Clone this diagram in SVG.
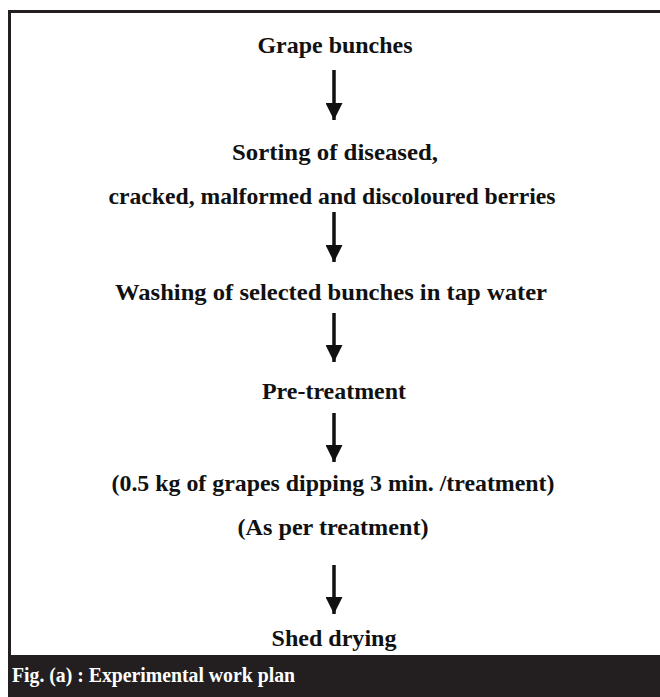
<svg xmlns="http://www.w3.org/2000/svg" width="660" height="697" viewBox="0 0 660 697">
<style>
  .t { font-family: "Liberation Serif", "Times New Roman", serif; font-weight: bold; font-size: 23.5px; fill: #111; text-anchor: middle; }
  .cap { font-family: "Liberation Serif", "Times New Roman", serif; font-weight: bold; font-size: 22px; fill: #fff; }
  .ln { stroke: #111; stroke-width: 3.5; fill: none; }
</style>
<defs>
  <marker id="ah" viewBox="0 0 10 10" refX="10" refY="5" markerUnits="userSpaceOnUse" markerWidth="17" markerHeight="17" orient="auto">
    <path d="M0,0 L10,5 L0,10 Z" fill="#111"/>
  </marker>
</defs>
<rect x="0" y="0" width="660" height="697" fill="#fff"/>
<g id="frame">
  <line x1="9.5" y1="10" x2="9.5" y2="656" stroke="#231f20" stroke-width="3"/>
  <line x1="8" y1="11.5" x2="660" y2="11.5" stroke="#231f20" stroke-width="3"/>
  <rect x="8" y="655" width="652" height="42" fill="#231f20"/>
</g>
<g id="connectors">
  <line class="ln" x1="334" y1="70" x2="334" y2="120" marker-end="url(#ah)"/>
  <line class="ln" x1="334" y1="212" x2="334" y2="262" marker-end="url(#ah)"/>
  <line class="ln" x1="334" y1="313" x2="334" y2="362" marker-end="url(#ah)"/>
  <line class="ln" x1="334" y1="413" x2="334" y2="462" marker-end="url(#ah)"/>
  <line class="ln" x1="334" y1="565" x2="334" y2="614" marker-end="url(#ah)"/>
</g>
<g id="n1"><text class="t" x="335" y="53" textLength="155" lengthAdjust="spacingAndGlyphs">Grape bunches</text></g>
<g id="n2">
  <text class="t" x="335" y="160" textLength="206" lengthAdjust="spacingAndGlyphs">Sorting of diseased,</text>
  <text class="t" x="332" y="204" textLength="447" lengthAdjust="spacingAndGlyphs">cracked, malformed and discoloured berries</text>
</g>
<g id="n3"><text class="t" x="331" y="300" textLength="432" lengthAdjust="spacingAndGlyphs">Washing of selected bunches in tap water</text></g>
<g id="n4"><text class="t" x="334" y="399" textLength="144" lengthAdjust="spacingAndGlyphs">Pre-treatment</text></g>
<g id="n5">
  <text class="t" x="333" y="491" textLength="443" lengthAdjust="spacingAndGlyphs">(0.5 kg of grapes dipping 3 min. /treatment)</text>
  <text class="t" x="333" y="535" textLength="191" lengthAdjust="spacingAndGlyphs">(As per treatment)</text>
</g>
<g id="n6"><text class="t" x="334" y="646" textLength="125" lengthAdjust="spacingAndGlyphs">Shed drying</text></g>
<g id="caption"><text class="cap" x="12" y="682" textLength="283" lengthAdjust="spacingAndGlyphs">Fig. (a) : Experimental work plan</text></g>
</svg>
